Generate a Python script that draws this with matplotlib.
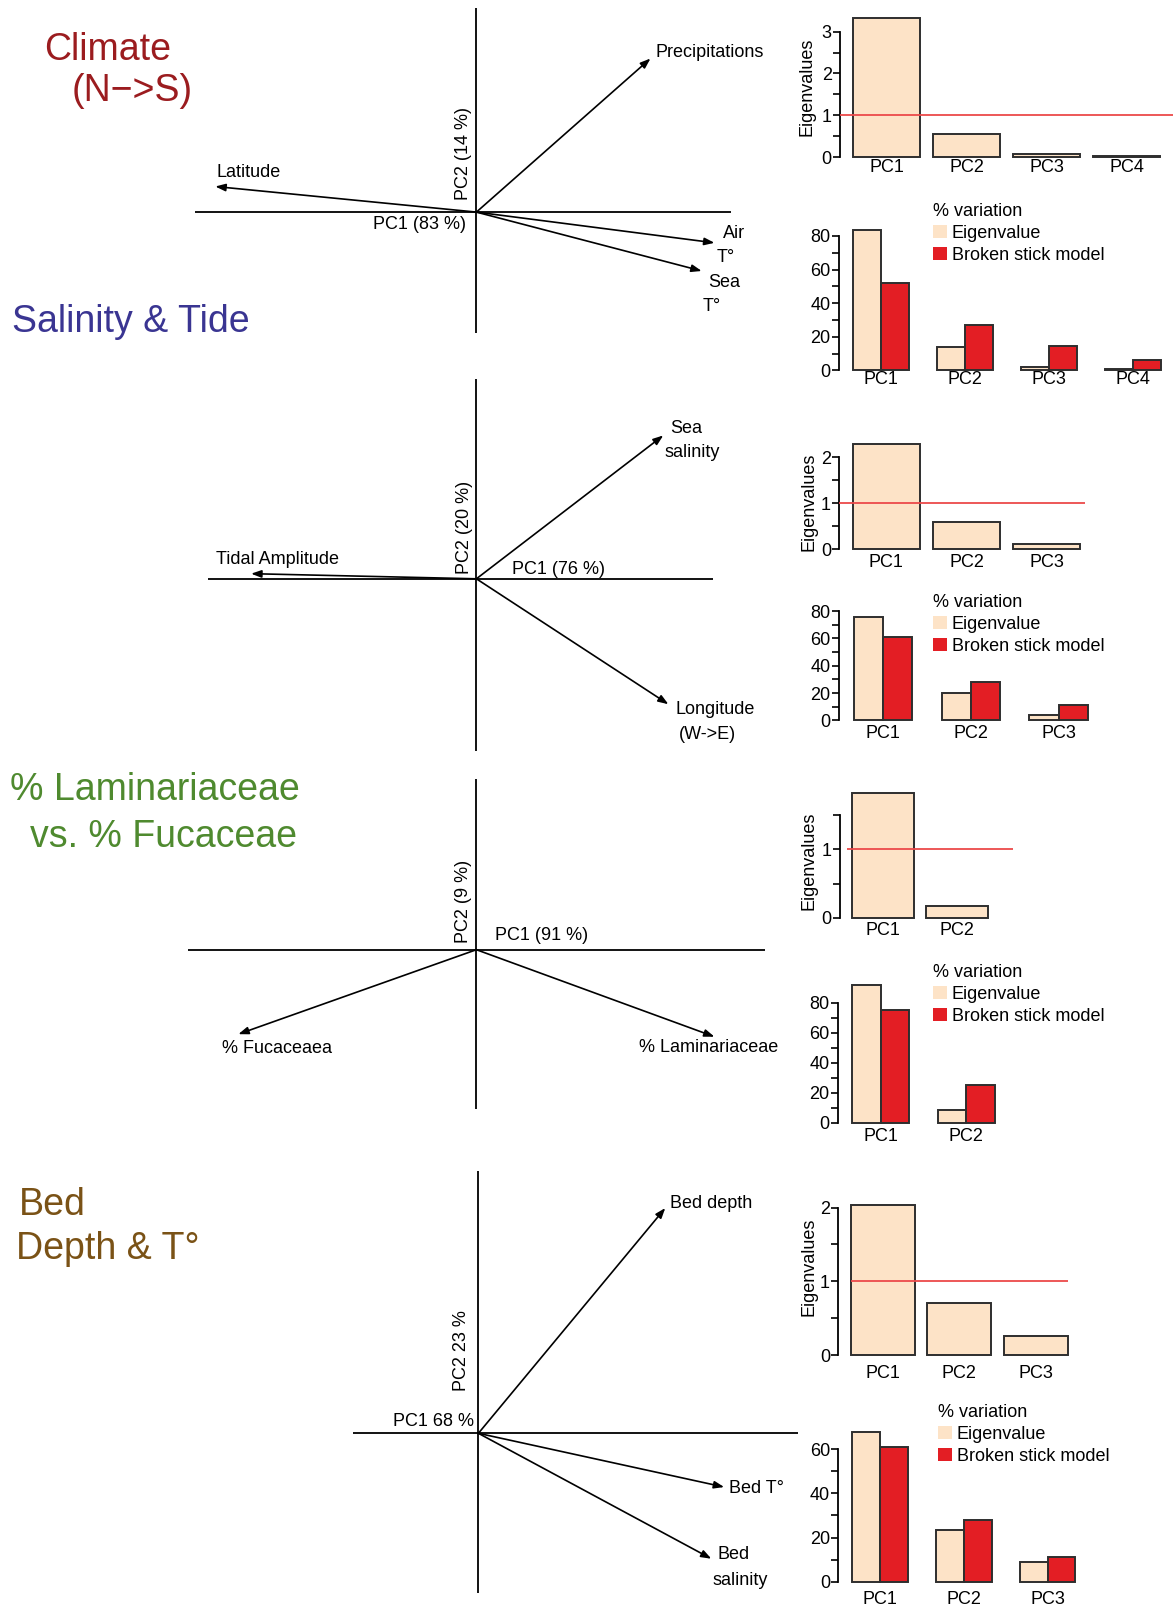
import matplotlib
matplotlib.use('Agg')
import matplotlib.pyplot as plt
from matplotlib.patches import Patch

plt.rcParams['font.family'] = ['Liberation Sans', 'DejaVu Sans']
plt.rcParams['font.size'] = 13

W, H = 1173, 1607
S = 256.0  # pixels per loading unit in the biplots

PEACH = '#FDE3C7'
RED = '#E31E24'
EDGE = '#2e2e2e'
REDLINE = '#EC4A4A'

# ---------------- data ----------------
pcs = ['PC1', 'PC2', 'PC3', 'PC4']

clim_vars = ['Precipitations', 'Latitude', 'Air\nT°', 'Sea\nT°']
clim_pc1 = [0.68, -1.02, 0.93, 0.88]
clim_pc2 = [0.60, 0.10, -0.12, -0.23]
clim_eig = [3.33, 0.56, 0.07, 0.02]
clim_pct = [83.5, 14.0, 1.8, 0.5]
clim_bstick = [52.1, 27.1, 14.6, 6.3]

sal_vars = ['Sea\nsalinity', 'Tidal Amplitude', 'Longitude\n(W->E)']
sal_pc1 = [0.73, -0.88, 0.75]
sal_pc2 = [0.56, 0.02, -0.49]
sal_eig = [2.28, 0.60, 0.11]
sal_pct = [76.0, 20.0, 3.7]
sal_bstick = [61.1, 27.8, 11.1]

lam_vars = ['% Fucaceaea', '% Laminariaceae']
lam_pc1 = [-0.93, 0.93]
lam_pc2 = [-0.33, -0.34]
lam_eig = [1.83, 0.17]
lam_pct = [91.5, 8.5]
lam_bstick = [75.0, 25.0]

bed_vars = ['Bed depth', 'Bed T°', 'Bed\nsalinity']
bed_pc1 = [0.73, 0.96, 0.91]
bed_pc2 = [0.88, -0.21, -0.49]
bed_eig = [2.03, 0.70, 0.26]
bed_pct = [67.7, 23.4, 8.8]
bed_bstick = [61.1, 27.8, 11.1]

fig = plt.figure(figsize=(W / 100, H / 100), dpi=100)


def px_axes(l, t, r, b):
    return fig.add_axes([l / W, 1 - b / H, (r - l) / W, (b - t) / H])


def biplot(origin, xlim, ylim, names, pc1, pc2, offsets, xlab, xlab_off, xlab_ha, ylab, ylab_off):
    ox, oy = origin
    ax = px_axes(ox + xlim[0] * S, oy - ylim[1] * S, ox + xlim[1] * S, oy - ylim[0] * S)
    ax.set_xlim(xlim)
    ax.set_ylim(ylim)
    ax.axis('off')
    ax.axhline(0, color='black', lw=1.3)
    ax.axvline(0, color='black', lw=1.3)
    for name, x, y, offs in zip(names, pc1, pc2, offsets):
        ax.annotate('', xy=(x, y), xytext=(0, 0),
                    arrowprops=dict(arrowstyle='-|>,head_length=0.6,head_width=0.22',
                                    mutation_scale=10, color='black', lw=1.2,
                                    shrinkA=0, shrinkB=0))
        for line, (dx, dy, ha) in zip(name.split('\n'), offs):
            ax.annotate(line, xy=(x, y), xytext=(dx, dy), textcoords='offset pixels',
                        ha=ha, va='center', fontsize=13)
    ax.annotate(xlab, xy=(0, 0), xytext=xlab_off, textcoords='offset pixels',
                ha=xlab_ha, va='center', fontsize=13)
    ax.annotate(ylab, xy=(0, 0), xytext=ylab_off, textcoords='offset pixels',
                rotation=90, ha='center', va='bottom', fontsize=13)


def bar_axes(spine_x, y0, xu, yu, xmax, ymax, ytop, xpad):
    ax = px_axes(spine_x, y0 - ymax * yu, spine_x + xmax * xu, y0)
    ax.set_xlim(0, xmax)
    ax.set_ylim(0, ymax)
    for s in ['top', 'right', 'bottom']:
        ax.spines[s].set_visible(False)
    ax.spines['left'].set_linewidth(1.3)
    ax.spines['left'].set_bounds(0, ytop)
    ax.tick_params(axis='x', length=0, pad=xpad, labelsize=13)
    ax.tick_params(axis='y', which='both', length=5, width=1.2, pad=1, labelsize=13)
    return ax


def eigen_chart(vals, spine_x, y0, xu, yu, xmax, ymax, ytop, major, minor, span, xpad, lab_xy):
    ax = bar_axes(spine_x, y0, xu, yu, xmax, ymax, ytop, xpad)
    lefts = [0.2 + 1.2 * i for i in range(len(vals))]
    ax.bar(lefts, vals, width=1, align='edge', color=PEACH, edgecolor=EDGE, lw=1.4, clip_on=False)
    ax.set_xticks([l + 0.5 for l in lefts], labels=pcs[:len(vals)])
    ax.set_yticks(major, labels=[str(m) for m in major])
    ax.set_yticks(minor, minor=True)
    ax.hlines(1, span[0], span[1], color=REDLINE, lw=1.3, zorder=3, clip_on=False)
    fig.text(lab_xy[0] / W, 1 - lab_xy[1] / H, 'Eigenvalues', rotation=90,
             ha='center', va='center', fontsize=13)
    return ax


def pct_chart(eig, bs, spine_x, y0, xu, yu, xmax, ymax, ytop, major, minor, xpad, leg_xy):
    ax = bar_axes(spine_x, y0, xu, yu, xmax, ymax, ytop, xpad)
    n = len(eig)
    lefts = [0.5 + 3 * i for i in range(n)]
    ax.bar(lefts, eig, width=1, align='edge', color=PEACH, edgecolor=EDGE, lw=1.4, clip_on=False)
    ax.bar([l + 1 for l in lefts], bs, width=1, align='edge', color=RED, edgecolor=EDGE,
           lw=1.4, clip_on=False)
    ax.set_xticks([l + 1 for l in lefts], labels=pcs[:n])
    ax.set_yticks(major, labels=[str(m) for m in major])
    ax.set_yticks(minor, minor=True)
    handles = [Patch(facecolor=PEACH, edgecolor='none'), Patch(facecolor=RED, edgecolor='none')]
    ax.legend(handles, ['Eigenvalue', 'Broken stick model'], title='% variation',
              alignment='left', loc='upper left', frameon=False, fontsize=13, title_fontsize=13,
              bbox_to_anchor=(leg_xy[0] / W, 1 - leg_xy[1] / H), bbox_transform=fig.transFigure,
              borderpad=0, borderaxespad=0, handlelength=0.75, handleheight=0.75,
              handletextpad=0.3, labelspacing=0.28)
    return ax


# ---------------- titles ----------------
titles = [
    ('Climate', 44, 50, '#9B1C1F'),
    ('(N\u2212>S)', 71.5, 91, '#9B1C1F'),
    ('Salinity & Tide', 12, 322, '#3A3592'),
    ('% Laminariaceae', 10, 790, '#4F8A2F'),
    ('vs. % Fucaceae', 30.5, 837, '#4F8A2F'),
    ('Bed', 18.5, 1205, '#7A5216'),
    ('Depth & T°', 15.5, 1249, '#7A5216'),
]
for txt, x, y, c in titles:
    fig.text(x / W, 1 - y / H, txt, ha='left', va='center', fontsize=27, color=c)

# ---------------- biplots ----------------
biplot((476.4, 212.1), (-1.10, 0.993), (-0.472, 0.796), clim_vars, clim_pc1, clim_pc2,
       [[(5, 6, 'left')], [(1, 14, 'left')],
        [(19.5, 9, 'center'), (11, -14.5, 'center')],
        [(22.5, -12, 'center'), (10, -36, 'center')]],
       'PC1 (83 %)', (-10.4, -12.3), 'right', 'PC2 (14 %)', (-12.4, 12.3))

biplot((476.4, 578.8), (-1.048, 0.924), (-0.672, 0.78), sal_vars, sal_pc1, sal_pc2,
       [[(22.5, 7, 'center'), (28.5, -17.5, 'center')], [(-35, 14.5, 'left')],
        [(47, -5, 'center'), (39, -30, 'center')]],
       'PC1 (76 %)', (35.8, 9.2), 'left', 'PC2 (20 %)', (-12.4, 5))

biplot((476.4, 949.7), (-1.128, 1.128), (-0.624, 0.668), lam_vars, lam_pc1, lam_pc2,
       [[(39, -14.5, 'center')], [(-6, -11, 'center')]],
       'PC1 (91 %)', (18.4, 14.3), 'left', 'PC2 (9 %)', (-12.4, 7))

biplot((478.4, 1433.3), (-0.488, 1.248), (-0.624, 1.024), bed_vars, bed_pc1, bed_pc2,
       [[(5, 5, 'left')], [(5, -1, 'left')],
        [(22.5, 4, 'center'), (28.5, -21.5, 'center')]],
       'PC1 68 %', (-4, 11.3), 'right', 'PC2 23 %', (-16.4, 42))

# ---------------- scree plots ----------------
eigen_chart(clim_eig, 840, 157.3, 66.7, 41.9, 5.0, 3.45, 3, [0, 1, 2, 3],
            [0.5, 1.5, 2.5], (0, 5.0), 1.2, (807, 87))
pct_chart(clim_pct, clim_bstick, 839, 370.3, 28, 1.679, 12, 85, 80, [0, 20, 40, 60, 80],
          [10, 30, 50, 70], 0.6, (933, 203))

eigen_chart(sal_eig, 839.3, 549.3, 67, 46, 3.8, 2.45, 2, [0, 1, 2],
            [0.5, 1.5], (0, 3.67), 3.4, (809, 502))
pct_chart(sal_pct, sal_bstick, 839, 720.5, 29.3, 1.367, 9, 85, 80, [0, 20, 40, 60, 80],
          [10, 30, 50, 70], 2.9, (933, 594))

eigen_chart(lam_eig, 839.5, 917.7, 62, 68.3, 3, 1.9, 1.5, [0, 1],
            [0.5, 1.5], (0.12, 2.8), 3.1, (809, 861))
pct_chart(lam_pct, lam_bstick, 837.7, 1122.7, 28.6, 1.5, 6.5, 95, 80, [0, 20, 40, 60, 80],
          [10, 30, 50, 70], 3.8, (933, 964))

eigen_chart(bed_eig, 838.3, 1355, 63.7, 73.7, 3.8, 2.1, 2, [0, 1, 2],
            [0.5, 1.5], (0.2, 3.6), 7.2, (809, 1267))
pct_chart(bed_pct, bed_bstick, 838.3, 1581.7, 27.9, 2.207, 9, 70, 60, [0, 20, 40, 60],
          [10, 30, 50], 6.5, (938, 1404))

fig.savefig('out.png', dpi=100)
